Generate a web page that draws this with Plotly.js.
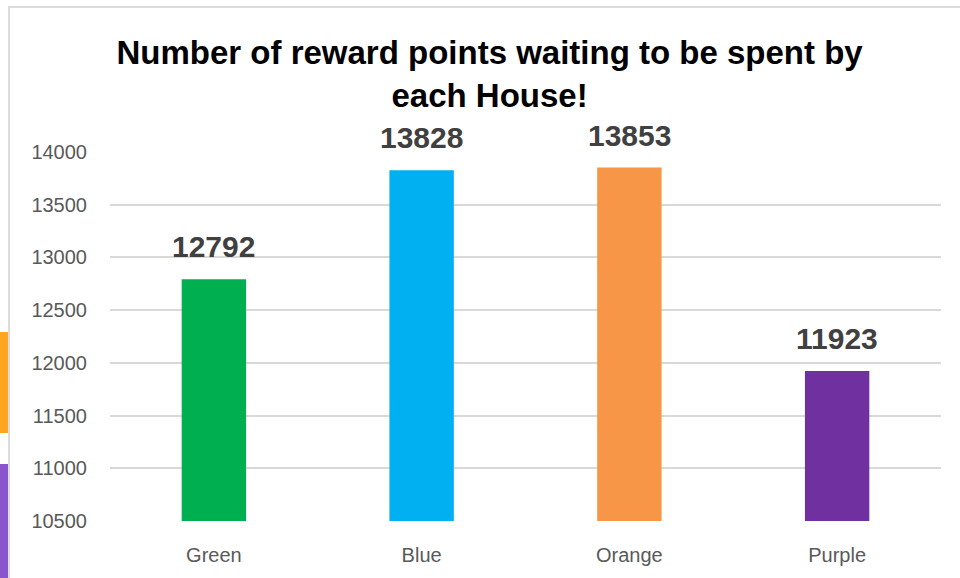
<!DOCTYPE html>
<html><head><meta charset="utf-8">
<script src="https://cdn.plot.ly/plotly-3.0.1.min.js"></script>
<style>body{margin:0;background:#fff}#c{width:960px;height:578px}</style>
</head><body><div id="c"></div>
<script>
const houses = ["Green", "Blue", "Orange", "Purple"];
const points = [12792, 13828, 13853, 11923];
const barColors = ["#00b050", "#00b0f0", "#f79646", "#7030a0"];
const yTicks = [10500, 11000, 11500, 12000, 12500, 13000, 13500, 14000];

const L = 110, R = 941, T = 152, B = 521;
const W = R - L, H = B - T;
const px = x => (x - L) / W;
const py = y => (B - y) / H;
const sans = "'Liberation Sans', Arial, sans-serif";

const trace = {
  type: "bar", x: houses, y: points,
  marker: {color: barColors},
  hoverinfo: "x+y"
};

const annotations = houses.map((h, i) => ({
  x: h, y: points[i], xref: "x", yref: "y",
  text: String(points[i]), showarrow: false,
  yanchor: "bottom", yshift: 14,
  font: {family: sans, size: 30, color: "#404040", weight: "bold"}
}));

const layout = {
  width: 960, height: 578,
  margin: {l: L, r: 960 - R, t: T, b: 578 - B},
  paper_bgcolor: "#ffffff", plot_bgcolor: "#ffffff",
  bargap: 0.69,
  showlegend: false,
  title: {
    text: "Number of reward points waiting to be spent by<br>each House!",
    xref: "container", yref: "container",
    x: 0.51, xanchor: "center", y: 1 - 64 / 578, yanchor: "middle",
    font: {family: sans, size: 33, color: "#000000", weight: "bold"}
  },
  xaxis: {
    type: "category", showgrid: false, zeroline: false, showline: false,
    ticks: "", tickfont: {family: sans, size: 20, color: "#595959"},
    ticklabelstandoff: 20, fixedrange: true
  },
  yaxis: {
    range: [10500, 14000], tickvals: yTicks, ticktext: yTicks.map(String),
    showgrid: true, gridcolor: "#d9d9d9", gridwidth: 2,
    zeroline: false, showline: false, ticks: "",
    tickfont: {family: sans, size: 20, color: "#595959"},
    ticklabelstandoff: 22, fixedrange: true
  },
  annotations: annotations,
  shapes: [
    {type: "rect", xref: "paper", yref: "paper", x0: px(9), x1: px(975), y0: py(7), y1: py(595),
     line: {color: "#dcdcdc", width: 2}, fillcolor: "rgba(0,0,0,0)", layer: "below"},
    {type: "rect", xref: "paper", yref: "paper", x0: px(-2), x1: px(8), y0: py(332), y1: py(433),
     line: {width: 0}, fillcolor: "#ffa520", layer: "below"},
    {type: "rect", xref: "paper", yref: "paper", x0: px(-2), x1: px(8), y0: py(464), y1: py(590),
     line: {width: 0}, fillcolor: "#8a55cc", layer: "below"}
  ]
};

Plotly.newPlot("c", [trace], layout, {displayModeBar: false, staticPlot: true});
</script></body></html>
